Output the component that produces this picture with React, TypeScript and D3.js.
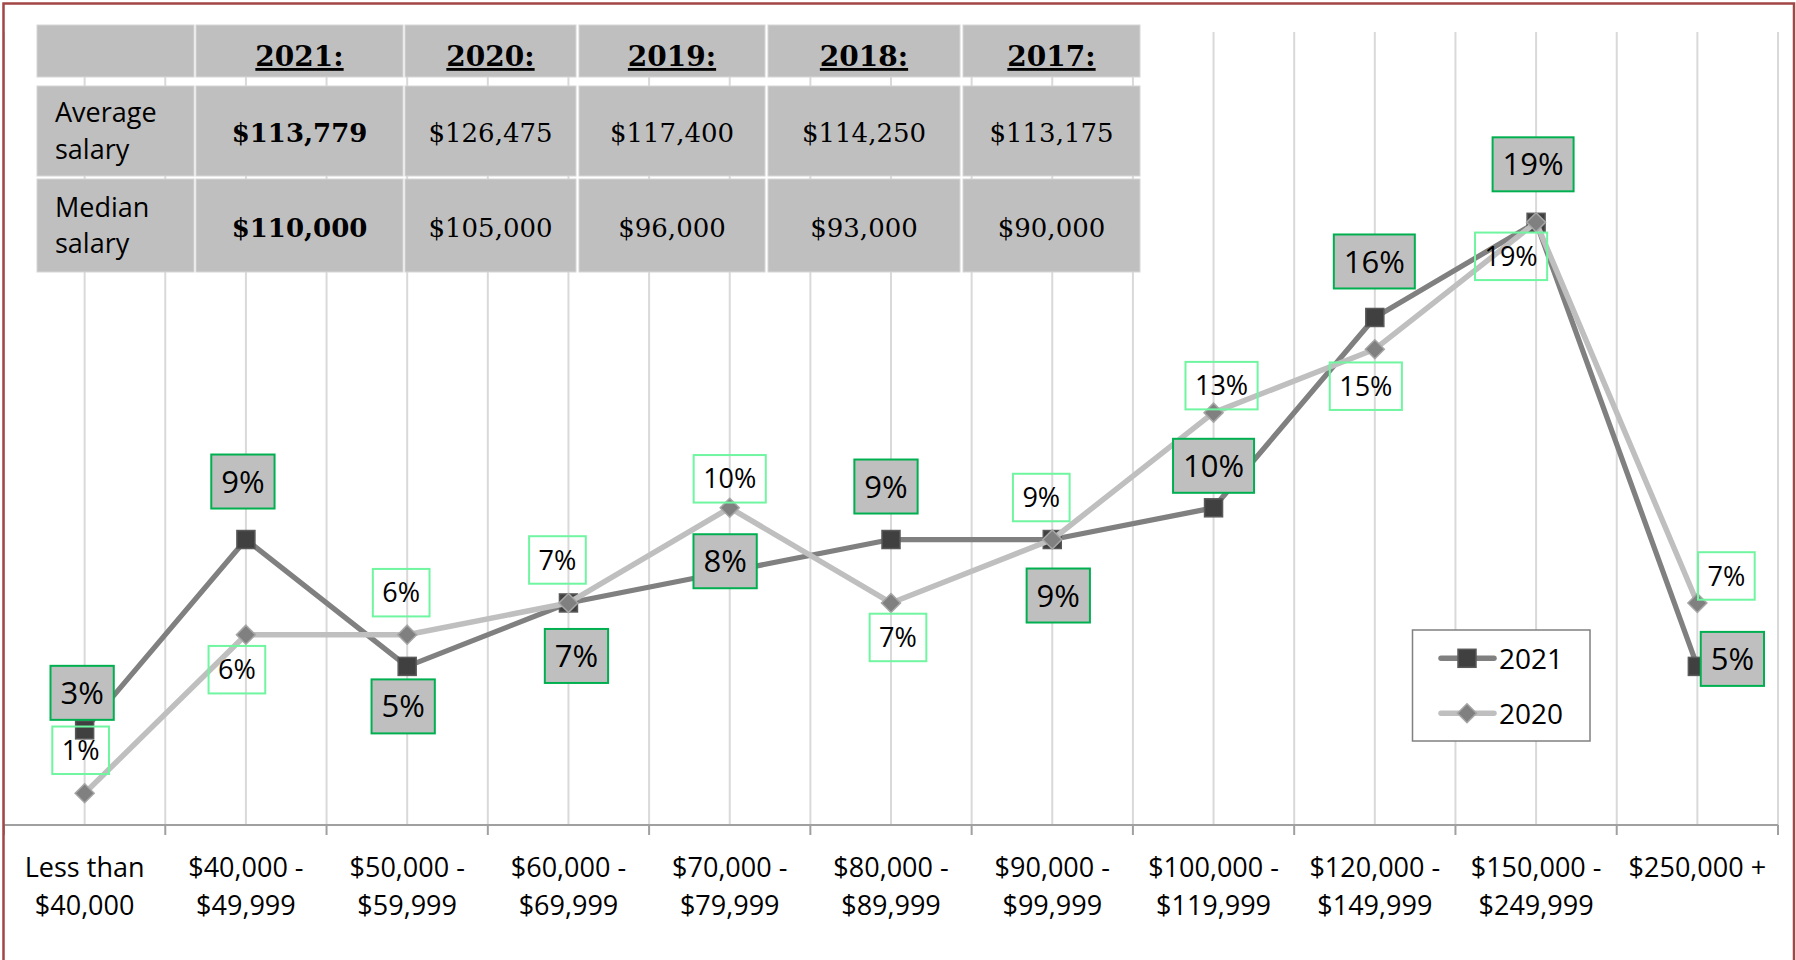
import React from "react";
import * as d3 from "d3";

// ---------- data ----------
const categories: string[][] = [
  ["Less than", "$40,000"],
  ["$40,000 -", "$49,999"],
  ["$50,000 -", "$59,999"],
  ["$60,000 -", "$69,999"],
  ["$70,000 -", "$79,999"],
  ["$80,000 -", "$89,999"],
  ["$90,000 -", "$99,999"],
  ["$100,000 -", "$119,999"],
  ["$120,000 -", "$149,999"],
  ["$150,000 -", "$249,999"],
  ["$250,000 +"],
];
const share2021 = [3, 9, 5, 7, 8, 9, 9, 10, 16, 19, 5];
const share2020 = [1, 6, 6, 7, 10, 7, 9, 13, 15, 19, 7];
const seriesNames = ["2021", "2020"];

const tableYears = ["2021:", "2020:", "2019:", "2018:", "2017:"];
const tableRowLabels = [["Average", "salary"], ["Median", "salary"]];
const averageSalary = ["$113,779", "$126,475", "$117,400", "$114,250", "$113,175"];
const medianSalary = ["$110,000", "$105,000", "$96,000", "$93,000", "$90,000"];

// ---------- layout (label nudges, px, relative to the point) ----------
const labelNudge2021: [number, number][] = [
  [-2.5, -37], [-3, -58], [-4, 40], [8, 53], [-4.6, -10], [-5, -53],
  [6, 56], [0, -42], [-0.5, -56], [-3, -58], [35, -7.5],
];
const labelNudge2020: [number, number][] = [
  [-4, -43], [-9, 35], [-6, -42], [-11, -43], [0, -29], [7, 34.5],
  [-11, -42], [8, -27], [-9, 37], [-25, 34], [29, -27],
];

const W = 1796;
const H = 960;
const SANS = "'Open Sans', 'Noto Sans', sans-serif";
const SERIF = "'DejaVu Serif', serif";

const C2021_LINE = "#808080";
const C2021_FILL = "#404040";
const C2021_STROKE = "#595959";
const C2020_LINE = "#bfbfbf";
const C2020_FILL = "#808080";
const C2020_STROKE = "#a6a6a6";
const GREEN_DARK = "#00b050";
const GREEN_LIGHT = "#70f5a0";

// text width estimate for Open Sans digits / percent
function pctWidth(s: string, fs: number) {
  let w = 0;
  for (const ch of s) w += ch === "%" ? 0.824 : 0.572;
  return w * fs;
}

const Square = ({ cx, cy, s }: { cx: number; cy: number; s: number }) => (
  <rect x={cx - s / 2} y={cy - s / 2} width={s} height={s} fill={C2021_FILL} stroke={C2021_STROKE} strokeWidth={1.5} />
);
const Diamond = ({ cx, cy, r }: { cx: number; cy: number; r: number }) => (
  <path d={`M${cx},${cy - r}L${cx + r},${cy}L${cx},${cy + r}L${cx - r},${cy}Z`} fill={C2020_FILL} stroke={C2020_STROKE} strokeWidth={1.5} />
);

export default function App() {
  const plotLeft = 4;
  const plotRight = 1778;
  const plotTop = 32;
  const plotBottom = 825;

  const keys = categories.map((c) => c.join(" "));
  const x = d3.scaleBand<string>().domain(keys).range([plotLeft, plotRight]).padding(0);
  const cx = (i: number) => (x(keys[i]) as number) + x.bandwidth() / 2;
  const y = d3.scaleLinear().domain([0, 25]).range([plotBottom, plotTop]);

  const line = d3
    .line<number>()
    .x((_, i) => cx(i))
    .y((d) => y(d));

  const gridXs: number[] = [];
  keys.forEach((k, i) => {
    gridXs.push(x(k) as number);
    gridXs.push(cx(i));
  });
  gridXs.push(plotRight);

  const tickXs = keys.map((k) => x(k) as number).concat([plotRight]);

  // table geometry
  const colX = [37, 196, 405, 579, 768, 963];
  const colW = [157, 207, 171, 186, 192, 177];
  const rowY = [25, 86, 179];
  const rowH = [52, 90, 93];
  const rowsValues = [averageSalary, medianSalary];

  const fs21 = 31;
  const fs20 = 27;

  return (
    <div style={{ position: "absolute", left: 0, top: 0 }}>
      <svg width={W} height={H} style={{ display: "block" }}>
        <rect x={0} y={0} width={W} height={H} fill="#ffffff" />

        {/* vertical gridlines */}
        {gridXs.map((gx, i) => (
          <line key={`g${i}`} x1={gx} x2={gx} y1={plotTop} y2={plotBottom} stroke="#d9d9d9" strokeWidth={2} />
        ))}

        {/* x axis */}
        <line x1={plotLeft} x2={plotRight} y1={plotBottom} y2={plotBottom} stroke="#a0a0a0" strokeWidth={2} />
        {tickXs.map((tx, i) => (
          <line key={`t${i}`} x1={tx} x2={tx} y1={plotBottom} y2={plotBottom + 10} stroke="#a0a0a0" strokeWidth={2} />
        ))}
        {categories.map((lines, i) => (
          <text key={`xl${i}`} x={cx(i)} textAnchor="middle" fontFamily={SANS} fontSize={27} fill="#000">
            {lines.map((l, j) => (
              <tspan key={j} x={cx(i)} y={877 + j * 38}>
                {l}
              </tspan>
            ))}
          </text>
        ))}

        {/* series 2021 */}
        <path d={line(share2021) || ""} fill="none" stroke={C2021_LINE} strokeWidth={5.25} strokeLinejoin="round" />
        {share2021.map((v, i) => (
          <Square key={`s${i}`} cx={cx(i)} cy={y(v)} s={18} />
        ))}

        {/* series 2020 */}
        <path d={line(share2020) || ""} fill="none" stroke={C2020_LINE} strokeWidth={5.5} strokeLinejoin="round" />
        {share2020.map((v, i) => (
          <Diamond key={`d${i}`} cx={cx(i)} cy={y(v)} r={9.5} />
        ))}

        {/* labels 2021 */}
        {share2021.map((v, i) => {
          const t = `${v}%`;
          const w = pctWidth(t, fs21) + 20;
          const h = 54;
          const lx = cx(i) + labelNudge2021[i][0];
          const ly = y(v) + labelNudge2021[i][1];
          return (
            <g key={`l21${i}`}>
              <rect x={lx - w / 2} y={ly - h / 2} width={w} height={h} fill="#bfbfbf" stroke={GREEN_DARK} strokeWidth={2} />
              <text x={lx} y={ly + fs21 * 0.357} textAnchor="middle" fontFamily={SANS} fontSize={fs21} fill="#000">
                {t}
              </text>
            </g>
          );
        })}

        {/* labels 2020 */}
        {share2020.map((v, i) => {
          const t = `${v}%`;
          const w = pctWidth(t, fs20) + 19;
          const h = 47.5;
          const lx = cx(i) + labelNudge2020[i][0];
          const ly = y(v) + labelNudge2020[i][1];
          return (
            <g key={`l20${i}`}>
              <rect x={lx - w / 2} y={ly - h / 2} width={w} height={h} fill="none" stroke={GREEN_LIGHT} strokeWidth={2} />
              <text x={lx} y={ly + fs20 * 0.357} textAnchor="middle" fontFamily={SANS} fontSize={fs20} fill="#000">
                {t}
              </text>
            </g>
          );
        })}

        {/* table */}
        {rowY.map((ry, r) =>
          colX.map((cxx, c) => (
            <rect key={`c${r}-${c}`} x={cxx} y={ry} width={colW[c]} height={rowH[r]} fill="#bfbfbf" stroke="#d6d6d6" strokeWidth={1} />
          ))
        )}
        {tableYears.map((yr, c) => (
          <text
            key={`h${c}`}
            x={colX[c + 1] + colW[c + 1] / 2}
            y={66}
            textAnchor="middle"
            fontFamily={SERIF}
            fontWeight="bold"
            fontSize={28}
            fill="#000"
            style={{ textDecoration: "underline" }}
          >
            {yr}
          </text>
        ))}
        {tableRowLabels.map((lbl, r) => {
          const center = rowY[r + 1] + rowH[r + 1] / 2;
          return (
            <text key={`rl${r}`} fontFamily={SANS} fontSize={27} fill="#000">
              <tspan x={55} y={center - 9}>
                {lbl[0]}
              </tspan>
              <tspan x={55} y={center + 27.5}>
                {lbl[1]}
              </tspan>
            </text>
          );
        })}
        {rowsValues.map((vals, r) => {
          const center = rowY[r + 1] + rowH[r + 1] / 2;
          return vals.map((v, c) => (
            <text
              key={`v${r}-${c}`}
              x={colX[c + 1] + colW[c + 1] / 2}
              y={center + 11}
              textAnchor="middle"
              fontFamily={SERIF}
              fontWeight={c === 0 ? "bold" : "normal"}
              fontSize={26}
              fill="#000"
            >
              {v}
            </text>
          ));
        })}

        {/* legend */}
        <rect x={1412.5} y={630} width={177.5} height={111} fill="#fff" stroke="#808080" strokeWidth={1.5} />
        <line x1={1441} x2={1494} y1={658.3} y2={658.3} stroke={C2021_LINE} strokeWidth={5.5} strokeLinecap="round" />
        <Square cx={1467} cy={658.3} s={18} />
        <text x={1499} y={668.5} fontFamily={SANS} fontSize={28} fill="#000">
          {seriesNames[0]}
        </text>
        <line x1={1441} x2={1494} y1={713.3} y2={713.3} stroke={C2020_LINE} strokeWidth={5.5} strokeLinecap="round" />
        <Diamond cx={1467} cy={713.3} r={9.5} />
        <text x={1499} y={723.5} fontFamily={SANS} fontSize={28} fill="#000">
          {seriesNames[1]}
        </text>

        {/* outer border */}
        <rect x={3.5} y={3.5} width={1790.5} height={H + 10} fill="none" stroke="#a24646" strokeWidth={2.5} />
      </svg>
    </div>
  );
}
